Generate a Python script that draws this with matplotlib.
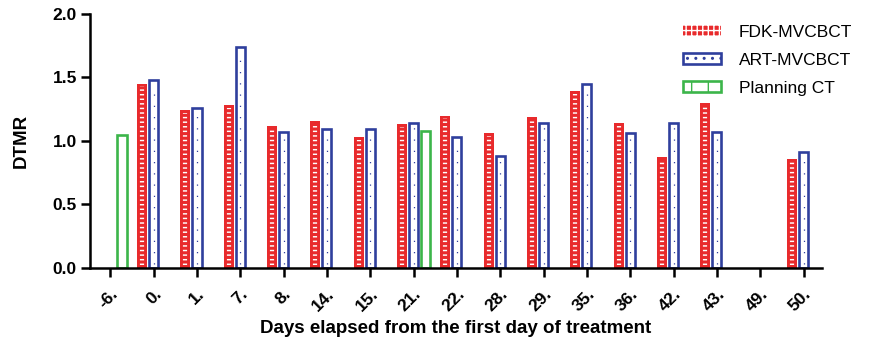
import matplotlib
matplotlib.use('Agg')
import matplotlib.pyplot as plt
from matplotlib.patches import Patch
import numpy as np

plt.rcParams['font.family'] = ['Liberation Sans', 'DejaVu Sans']

days = ['-6.', '0.', '1.', '7.', '8.', '14.', '15.', '21.', '22.', '28.',
        '29.', '35.', '36.', '42.', '43.', '49.', '50.']
fdk = [np.nan, 1.45, 1.24, 1.28, 1.12, 1.16, 1.03, 1.13, 1.20, 1.06,
       1.19, 1.39, 1.14, 0.87, 1.30, np.nan, 0.86]
art = [np.nan, 1.48, 1.26, 1.74, 1.07, 1.09, 1.09, 1.14, 1.03, 0.88,
       1.14, 1.45, 1.06, 1.14, 1.07, np.nan, 0.91]
planning = [1.05, np.nan, np.nan, np.nan, np.nan, np.nan, np.nan, 1.08,
            np.nan, np.nan, np.nan, np.nan, np.nan, np.nan, np.nan, np.nan, np.nan]

red = '#e82a2c'
blue = '#2f3f9d'
green = '#3cb54a'

fig = plt.figure(figsize=(8.7, 3.42), dpi=100)
ax = fig.add_axes([0.1034, 0.217, 0.8411, 0.742])

x = np.arange(len(days))
w = 0.21
off = 0.27

ax.bar(x - off, fdk, w + 0.02, color=red, linewidth=0)
ax.bar(x, art, w, facecolor='white', edgecolor=blue, linewidth=1.9)
ax.bar(x + off, planning, w, facecolor='white', edgecolor=green, linewidth=1.9)

# inner patterns of the bars
fdk_a = np.array(fdk)
art_a = np.array(art)
m = ~np.isnan(fdk_a)
ax.vlines(x[m] - off, 0.02, fdk_a[m] - 0.02, colors='white', linewidth=3,
          linestyles=(0, (0.35, 0.75)))
m = ~np.isnan(art_a)
ax.vlines(x[m], 0.03, art_a[m] - 0.03, colors=blue, linewidth=0.9,
          linestyles=(0, (1.0, 8.0)))

ax.set_xlim(-0.47, 16.42)
ax.set_ylim(0, 2.0)
ax.set_yticks([0, 0.5, 1.0, 1.5, 2.0])
ax.set_yticklabels(['0.0', '0.5', '1.0', '1.5', '2.0'], fontsize=12.5, fontweight='bold')
ax.set_xticks(x)
ax.set_xticklabels(days, rotation=45, ha='right', rotation_mode='anchor',
                   fontsize=12.5, fontweight='bold')

for s in ['top', 'right']:
    ax.spines[s].set_visible(False)
for s in ['left', 'bottom']:
    ax.spines[s].set_linewidth(1.8)
ax.tick_params(axis='both', width=1.8, length=6.5, direction='out')
ax.tick_params(axis='x', pad=7)
ax.tick_params(axis='y', pad=3)

ax.set_ylabel('DTMR', fontsize=13.5, fontweight='bold', labelpad=16)
ax.set_xlabel('Days elapsed from the first day of treatment', fontsize=13.5,
              fontweight='bold', labelpad=4)

handles = [
    Patch(facecolor=red, edgecolor='white', hatch='+++', linewidth=0),
    Patch(facecolor='white', edgecolor=blue, hatch='..', linewidth=1.9),
    Patch(facecolor='white', edgecolor=green, hatch='|', linewidth=1.9),
]
fig.legend(handles, ['FDK-MVCBCT', 'ART-MVCBCT', 'Planning CT'],
           loc='upper left', bbox_to_anchor=(0.785, 0.927), frameon=False,
           fontsize=12.5, handlelength=2.2, handleheight=0.6,
           handletextpad=1.0, labelspacing=0.75, borderpad=0, borderaxespad=0)

fig.savefig('out.png', dpi=100)
